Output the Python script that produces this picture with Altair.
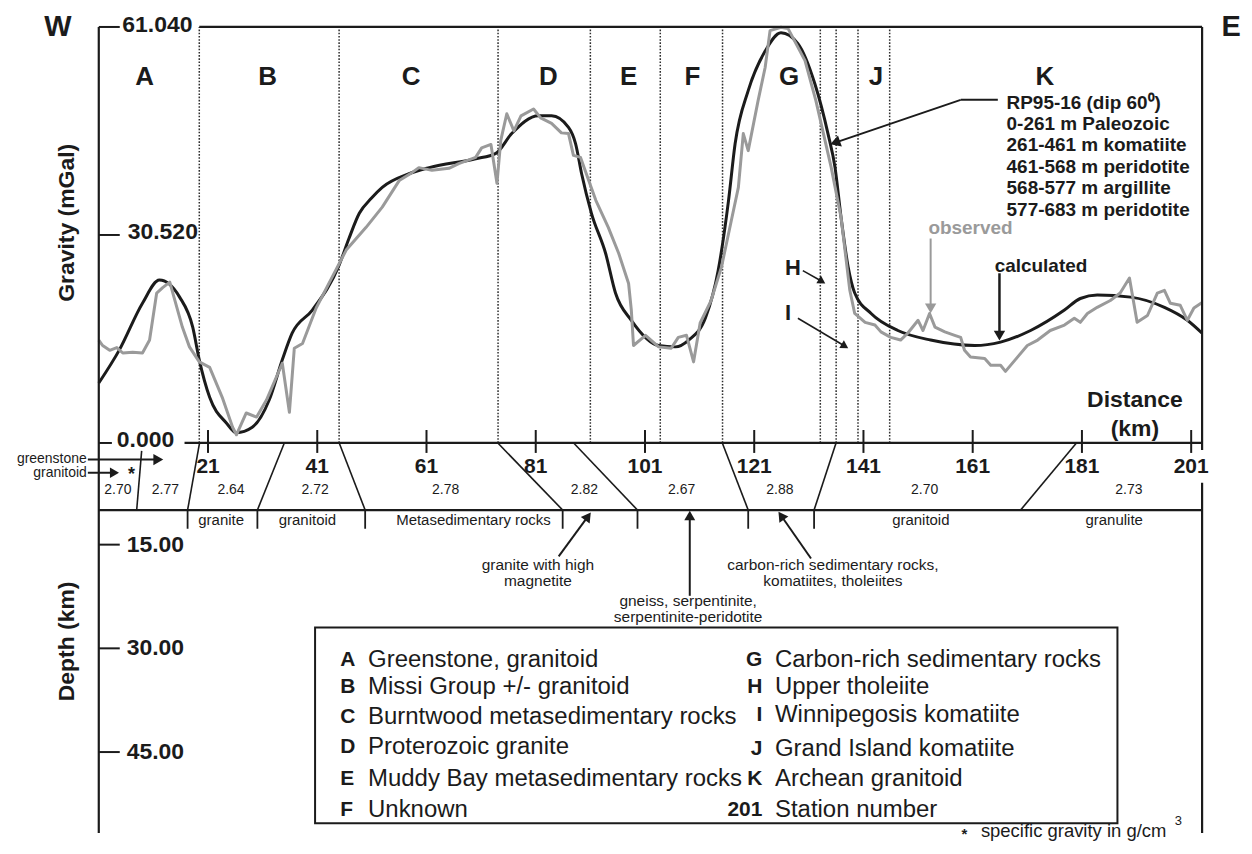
import altair as alt
import pandas as pd

FONT = "Liberation Sans"
INK = "#1b1b1b"
GREY = "#9a9a9a"
DOT = "#2e2e2e"

WIDTH, HEIGHT = 1106, 808
STATION_DOMAIN = [1, 203]
GRAVITY_DOMAIN = [-57.23, 61.04]
DEPTH_DOMAIN = [-59.88, 56.71]
G_TOP = 61.04
G_BOT = GRAVITY_DOMAIN[0]
D_BOT = DEPTH_DOMAIN[1]

# ---------------- gravity profile (station, mGal) ----------------
calc_station = [1.0, 4.8, 9.0, 12.1, 15.8, 18.2, 19.4, 21.3, 24.4, 26.2, 29.1, 32.2, 34.6, 36.4,
                40.1, 45.0, 46.8, 48.7, 50.9, 52.9, 57.8, 61.5, 70.0, 73.7, 76.6, 81.5, 83.9,
                87.0, 88.3, 89.4, 91.2, 93.8, 95.6, 98.5, 103.5, 106.6, 109.0, 112.1, 114.4,
                116.3, 117.5, 119.9, 123.0, 125.9, 129.0, 132.1, 134.5, 135.8, 136.9, 138.2,
                139.4, 142.4, 147.3, 153.3, 161.4, 166.1, 171.6, 177.8, 180.7, 183.8, 189.9,
                196.1, 200.3, 203.0]
calc_mgal = [8.8, 13.7, 20.5, 23.9, 21.4, 17.0, 12.2, 6.7, 2.9, 1.5, 2.3, 6.3, 12.2, 16.1,
             19.5, 26.1, 30.0, 33.7, 35.9, 37.5, 39.5, 40.4, 41.7, 42.5, 45.4, 48.0, 48.0,
             46.3, 43.9, 39.5, 33.7, 27.8, 22.0, 18.0, 14.3, 14.1, 15.1, 18.4, 25.3,
             35.6, 43.9, 51.7, 57.5, 60.2, 58.6, 52.7, 45.4, 40.4, 33.1, 25.8,
             22.0, 19.0, 16.5, 15.1, 14.3, 14.8, 16.5, 19.5, 21.2, 21.7, 21.4,
             19.9, 18.0, 16.1]

obs_station = [1.0, 1.7, 3.0, 4.3, 5.4, 7.2, 9.0, 10.3, 11.6, 12.7, 14.0, 16.3, 17.6, 19.4,
               21.3, 23.6, 25.5, 26.2, 28.0, 29.9, 31.7, 34.6, 35.9, 36.8, 38.3, 40.8, 43.7,
               46.3, 49.9, 52.9, 56.0, 58.4, 59.6, 62.0, 65.1, 66.9, 70.0, 71.1, 72.8, 73.9,
               74.6, 75.7, 77.0, 78.3, 80.6, 81.9, 83.9, 85.7, 87.0, 87.9, 89.2, 90.7, 92.0,
               94.3, 96.2, 98.0, 98.5, 98.9, 101.1, 103.5, 105.8, 107.1, 108.6, 109.9, 111.1,
               113.1, 115.0, 116.8, 118.1, 119.0, 119.9, 121.7, 123.0, 123.9, 125.9, 127.2,
               130.3, 132.3, 135.1, 136.9, 138.5, 139.4, 141.3, 143.1, 144.2, 146.0, 147.8,
               149.1, 151.0, 151.9, 153.1, 154.1, 155.9, 157.7, 158.8, 159.5, 160.6, 163.2,
               164.3, 166.1, 167.0, 169.2, 171.0, 172.9, 175.2, 177.8, 179.6, 180.7, 182.0,
               183.8, 186.2, 188.0, 189.7, 191.1, 193.0, 194.8, 196.1, 197.2, 199.0, 200.3,
               201.5, 203.0]
obs_mgal = [15.1, 14.3, 13.6, 14.0, 13.2, 13.3, 13.2, 15.1, 22.0, 22.8, 23.6, 17.0, 14.1, 11.9,
            11.1, 6.7, 2.3, 1.2, 4.4, 3.8, 6.3, 11.7, 4.5, 13.9, 14.6, 19.8, 24.3,
            28.3, 31.6, 34.6, 38.5, 39.7, 40.4, 40.0, 40.3, 41.0, 41.9, 43.3, 43.8, 38.1,
            44.4, 48.3, 45.8, 48.0, 49.0, 47.7, 46.9, 45.5, 45.4, 42.2, 41.9, 38.5, 35.6,
            31.6, 27.8, 23.4, 19.5, 14.3, 15.8, 14.1, 13.9, 15.5, 15.8, 11.9, 17.6,
            20.9, 25.8, 32.6, 37.5, 45.4, 42.9, 50.2, 55.1, 60.5, 61.0, 60.8,
            56.1, 50.2, 40.4, 33.1, 22.4, 19.0, 17.7, 17.3, 16.3, 15.5, 15.1,
            16.1, 18.0, 16.5, 19.0, 17.0, 16.3, 15.8, 15.5, 13.6, 12.6, 12.4,
            11.4, 11.4, 10.5, 12.6, 14.3, 15.1, 16.5, 17.3, 18.3, 17.7, 19.0,
            19.9, 20.9, 22.0, 24.2, 17.7, 18.7, 22.0, 22.4, 20.5, 20.2, 18.0,
            19.8, 20.6]

zone_bounds = [19.4, 45.0, 74.1, 91.0, 103.8, 115.2, 133.1, 136.0, 140.0, 145.8]
zone_letters = ["A", "B", "C", "D", "E", "F", "G", "J", "K"]
zone_letter_station = [9.4, 31.9, 58.2, 83.3, 98.0, 109.7, 127.4, 143.3, 174.2]
ZONE_LETTER_G = 53.7

gravity_ticks = [61.04, 30.52, 0.0]
gravity_tick_labels = ["61.040", "30.520", "0.000"]
gravity_label_station = [5.3, 6.3, 4.3]
gravity_label_g = [61.3, 30.9, 0.5]

rp_lines = ["RP95-16 (dip 60\u2070)", "0-261 m Paleozoic", "261-461 m komatiite",
            "461-568 m peridotite", "568-577 m argillite", "577-683 m peridotite"]
rp_line_g = [49.9, 46.84, 43.77, 40.55, 37.47, 34.25]
RP_STATION = 167.2

# ---------------- density section (station, depth km) ----------------
station_ticks = [21, 41, 61, 81, 101, 121, 141, 161, 181, 201]
depth_ticks = [15, 30, 45]
depth_tick_labels = ["15.00", "30.00", "45.00"]

bnd_top_station = [8.85, 19.45, 34.97, 45.02, 74.06, 87.94, 115.16, 135.98, 179.99]
bnd_bot_station = [7.94, 17.26, 30.04, 49.77, 85.93, 99.63, 119.9, 131.96, 169.77]
bnd_top_depth = [1.44, 0.29, 0.29, 0.29, 0.29, 0.29, 0.29, 0.29, 0.29]
bnd_has_tick = [False, True, True, True, True, True, True, True, False]
LAYER_BOTTOM = 10.0

density_values = ["2.70", "2.77", "2.64", "2.72", "2.78", "2.82", "2.67", "2.88", "2.70", "2.73"]
density_station = [4.5, 13.2, 25.2, 40.6, 64.5, 89.9, 107.7, 125.7, 152.2, 189.6]
DENSITY_DEPTH = 7.1

rock_labels = ["granite", "granitoid", "Metasedimentary rocks", "granitoid", "granulite"]
rock_station = [23.4, 39.2, 69.6, 151.5, 186.9]
ROCK_DEPTH = 11.4

note_lines = ["granite with high", "magnetite", "carbon-rich sedimentary rocks,",
              "komatiites, tholeiites", "gneiss, serpentinite,", "serpentinite-peridotite"]
note_station = [81.4, 81.4, 135.4, 135.4, 108.9, 108.9]
note_depth = [18.0, 20.3, 18.0, 20.3, 23.2, 25.5]

legend_left_keys = ["A", "B", "C", "D", "E", "F"]
legend_left_text = ["Greenstone, granitoid", "Missi Group +/- granitoid",
                    "Burntwood metasedimentary rocks", "Proterozoic granite",
                    "Muddy Bay metasedimentary rocks", "Unknown"]
legend_left_depth = [31.75, 35.6, 40.0, 44.2, 48.9, 53.4]
legend_right_keys = ["G", "H", "I", "J", "K", "201"]
legend_right_text = ["Carbon-rich sedimentary rocks", "Upper tholeiite", "Winnipegosis komatiite",
                     "Grand Island komatiite", "Archean granitoid", "Station number"]
legend_right_depth = [31.75, 35.6, 39.7, 44.6, 48.9, 53.4]
legend_box = [40.6, 187.5, 27.0, 55.3]


def xenc(f):
    return alt.X(f + ":Q", scale=alt.Scale(domain=STATION_DOMAIN, nice=False, zero=False), axis=None)


def yenc(f, kind):
    if kind == "g":
        sc = alt.Scale(domain=GRAVITY_DOMAIN, nice=False, zero=False)
    else:
        sc = alt.Scale(domain=DEPTH_DOMAIN, nice=False, zero=False, reverse=True)
    return alt.Y(f + ":Q", scale=sc, axis=None)


def seg_layer(rows, kind, dash=None):
    df = pd.DataFrame(rows, columns=["s1", "s2", "y1", "y2", "c", "w"])
    kw = {}
    if dash:
        kw["strokeDash"] = dash
    return alt.Chart(df).mark_rule(**kw).encode(
        x=xenc("s1"), x2=alt.X2("s2:Q"), y=yenc("y1", kind), y2=alt.Y2("y2:Q"),
        color=alt.Color("c:N", scale=None), strokeWidth=alt.StrokeWidth("w:Q", scale=None))


def text_layer(rows, kind, align="center", weight="normal", angle=0):
    df = pd.DataFrame(rows, columns=["t", "s", "y", "fs", "c"])
    return alt.Chart(df).mark_text(align=align, baseline="middle", font=FONT,
                                   fontWeight=weight, angle=angle).encode(
        x=xenc("s"), y=yenc("y", kind), text="t:N",
        size=alt.Size("fs:Q", scale=None), color=alt.Color("c:N", scale=None))


def head_layer(rows, kind):
    df = pd.DataFrame(rows, columns=["s", "y", "a", "c", "z"])
    return alt.Chart(df).mark_point(shape="triangle", filled=True, opacity=1, strokeWidth=0).encode(
        x=xenc("s"), y=yenc("y", kind), angle=alt.Angle("a:Q", scale=None),
        color=alt.Color("c:N", scale=None), size=alt.Size("z:Q", scale=None))


layers = []

# dotted zone boundaries
layers.append(seg_layer([(s, s, 0.0, G_TOP, DOT, 1.5) for s in zone_bounds], "g", dash=[1.6, 1.6]))

# curves
calc_df = pd.DataFrame({"s": calc_station, "g": calc_mgal})
obs_df = pd.DataFrame({"s": obs_station, "g": obs_mgal})
layers.append(alt.Chart(calc_df).mark_line(color=INK, strokeWidth=3, interpolate="monotone").encode(
    x=xenc("s"), y=yenc("g", "g")))
layers.append(alt.Chart(obs_df).mark_line(color=GREY, strokeWidth=3, strokeJoin="round").encode(
    x=xenc("s"), y=yenc("g", "g")))

# frame in gravity units
g_frame = [
    (1, 1, G_TOP, G_BOT, INK, 2.2),
    (19.4, 203, G_TOP, G_TOP, INK, 2.2),
    (203, 203, G_TOP, -1.02, INK, 2.2),
    (16.7, 203, 0.0, 0.0, INK, 2.2),
    (1, 4.84, gravity_ticks[0], gravity_ticks[0], INK, 2),
    (1, 4.84, gravity_ticks[1], gravity_ticks[1], INK, 2),
    (1, 3.4, gravity_ticks[2], gravity_ticks[2], INK, 2),
] + [(s, s, 1.90, -1.46, INK, 2) for s in station_ticks]
layers.append(seg_layer(g_frame, "g"))

# frame in depth units
d_frame = [
    (203, 203, 6.06, D_BOT, INK, 2.2),
    (1, 203, LAYER_BOTTOM, LAYER_BOTTOM, INK, 2.2),
] + [(1, 4.84, d, d, INK, 2) for d in depth_ticks]
d_frame += [(t, b, td, LAYER_BOTTOM, INK, 1.6)
            for t, b, td in zip(bnd_top_station, bnd_bot_station, bnd_top_depth)]
d_frame += [(b, b, LAYER_BOTTOM, 12.7, INK, 1.8)
            for b, k in zip(bnd_bot_station, bnd_has_tick) if k]
layers.append(seg_layer(d_frame, "d"))

# legend box
box_df = pd.DataFrame({"s1": [legend_box[0]], "s2": [legend_box[1]],
                       "d1": [legend_box[2]], "d2": [legend_box[3]]})
layers.append(alt.Chart(box_df).mark_rect(fill="white", stroke=INK, strokeWidth=2).encode(
    x=xenc("s1"), x2=alt.X2("s2:Q"), y=yenc("d1", "d"), y2=alt.Y2("d2:Q")))

# arrows
g_arrows = [
    (129.9, 133.2, 25.3, 23.8, INK, 1.5),
    (129.0, 137.4, 18.3, 14.3, INK, 1.5),
    (165.6, 158.8, 50.35, 50.35, INK, 2),
    (158.8, 136.1, 50.35, 44.15, INK, 2),
    (153.3, 153.3, 30.0, 20.0, GREY, 2),
    (165.9, 165.9, 24.9, 16.0, INK, 2.5),
]
d_arrows = [
    (85.2, 90.4, 16.7, 11.1, INK, 2),
    (131.4, 126.1, 17.0, 11.0, INK, 2),
    (109.2, 109.2, 22.4, 11.0, INK, 2),
    (-1.0, 11.6, 2.7, 2.7, INK, 2),
    (-1.0, 3.6, 4.6, 4.6, INK, 2),
]
layers.append(seg_layer(g_arrows, "g"))
layers.append(seg_layer(d_arrows, "d"))
layers.append(head_layer([
    (133.2, 23.8, 121, INK, 80),
    (137.4, 14.3, 121, INK, 80),
    (136.1, 44.15, 251, INK, 140),
    (153.3, 20.0, 180, GREY, 130),
    (165.9, 16.0, 180, INK, 130),
], "g"))
layers.append(head_layer([
    (90.4, 11.1, 36, INK, 120),
    (126.1, 11.0, 325, INK, 120),
    (109.2, 11.0, 0, INK, 120),
    (11.6, 2.7, 90, INK, 130),
    (3.6, 4.6, 90, INK, 110),
], "d"))

# gravity-unit texts
g_bold_center = [("W", -6.49, 61.0, 29, INK), ("E", 208.3, 61.0, 29, INK)]
g_bold_center += [(l, s, ZONE_LETTER_G, 26, INK) for l, s in zip(zone_letters, zone_letter_station)]
g_bold_center += [
    ("H", 128.1, 25.6, 22, INK),
    ("I", 127.2, 19.0, 22, INK),
    ("observed", 160.6, 31.6, 19, GREY),
    ("calculated", 173.5, 26.0, 19, INK),
    ("Distance", 190.7, 6.3, 23, INK),
    ("(km)", 190.7, 2.0, 23, INK),
]
layers.append(text_layer(g_bold_center, "g", weight="bold"))
g_bold_left = [(t, RP_STATION, g, 19, INK) for t, g in zip(rp_lines, rp_line_g)]
g_bold_left += [(t, s, g, 23, INK) for t, s, g in
                zip(gravity_tick_labels, gravity_label_station, gravity_label_g)]
layers.append(text_layer(g_bold_left, "g", align="left", weight="bold"))
layers.append(text_layer([("Gravity (mGal)", -4.85, 32.3, 23, INK)], "g", weight="bold", angle=270))

# depth-unit texts
d_bold_center = [(str(s), s, 3.7, 21, INK) for s in station_ticks]
d_bold_center += [("*", 7.0, 4.9, 18, INK), ("*", 159.5, 56.9, 15, INK)]
layers.append(text_layer(d_bold_center, "d", weight="bold"))
d_bold_left = [(t, 6.1, d, 23, INK) for t, d in zip(depth_tick_labels, depth_ticks)]
d_bold_left += [(k, 45.2, d, 21, INK) for k, d in zip(legend_left_keys, legend_left_depth)]
layers.append(text_layer(d_bold_left, "d", align="left", weight="bold"))
layers.append(text_layer([(k, 122.5, d, 21, INK) for k, d in zip(legend_right_keys, legend_right_depth)],
                         "d", align="right", weight="bold"))
d_reg_center = [(t, s, DENSITY_DEPTH, 14, INK) for t, s in zip(density_values, density_station)]
d_reg_center += [(t, s, ROCK_DEPTH, 15, INK) for t, s in zip(rock_labels, rock_station)]
d_reg_center += [(t, s, d, 15.5, INK) for t, s, d in zip(note_lines, note_station, note_depth)]
layers.append(text_layer(d_reg_center, "d"))
d_reg_left = [(t, 50.3, d, 24, INK) for t, d in zip(legend_left_text, legend_left_depth)]
d_reg_left += [(t, 124.8, d, 24, INK) for t, d in zip(legend_right_text, legend_right_depth)]
d_reg_left += [("specific gravity in g/cm", 162.5, 56.4, 18.5, INK), ("3", 198.0, 55.0, 13, INK)]
layers.append(text_layer(d_reg_left, "d", align="left"))
layers.append(text_layer([("greenstone", -1.2, 2.6, 14, INK), ("granitoid", -1.2, 4.7, 14, INK)],
                         "d", align="right"))
layers.append(text_layer([("Depth (km)", -4.85, 29.0, 23, INK)], "d", weight="bold", angle=270))

chart = alt.layer(*layers).resolve_scale(y="independent").properties(
    width=WIDTH, height=HEIGHT,
    padding={"left": 91, "top": 18, "right": 42, "bottom": 8},
    autosize=alt.AutoSizeParams(type="none"),
    background="white",
).configure_view(stroke=None)

chart.save("out.html", embed_options={"renderer": "svg", "actions": False})
